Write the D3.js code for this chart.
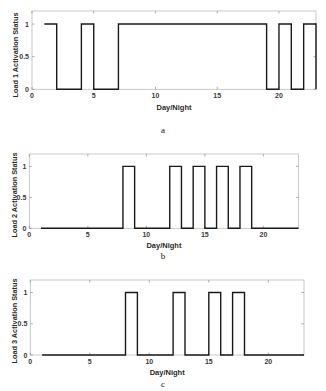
<!DOCTYPE html>
<html>
<head>
<meta charset="utf-8">
<script src="https://cdn.jsdelivr.net/npm/d3@7"></script>
<style>
  html, body { margin: 0; padding: 0; background: #fff; }
  svg { display: block; }
</style>
</head>
<body>
<svg id="chart" width="326" height="391"></svg>
<script>
// Hours of the day/night cycle
const hours = d3.range(1, 24);
// Hourly on/off status of each load
const load1 = [1,0,0,1,0,0,1,1,1,1,1,1,1,1,1,1,1,1,0,1,0,1,0];
const load2 = [0,0,0,0,0,0,0,1,0,0,0,1,0,1,0,1,0,1,0,0,0,0,0];
const load3 = [0,0,0,0,0,0,0,1,0,0,0,1,0,0,1,0,1,0,0,0,0,0,0];
const xTicks = [0, 5, 10, 15, 20];
const yTicks = [0, 0.5, 1];
const yTickLabels = ["0", "0.5", "1"];
const xTitle = "Day/Night";
const yTitles = ["Load 1 Activation Status", "Load 2 Activation Status", "Load 3 Activation Status"];
const captions = ["a", "b", "c"];

const svg = d3.select("#chart");

const panels = [
  { data: load1, left: 32, right: 316, top: 11, bottom: 89.3, labelX: 15, titleMid: 55, xTitleY: 110, capY: 133 },
  { data: load2, left: 29.3, right: 298.5, top: 154, bottom: 228.3, labelX: 14, titleMid: 195, xTitleY: 248, capY: 259 },
  { data: load3, left: 30.3, right: 304, top: 280, bottom: 355, labelX: 14, titleMid: 321, xTitleY: 375, capY: 387 }
];

panels.forEach((p, i) => {
  const x = d3.scaleLinear().domain([0, 23]).range([p.left, p.right]);
  const y = d3.scaleLinear().domain([0, 1.2]).range([p.bottom, p.top]);
  const g = svg.append("g");

  // frame
  g.append("rect")
    .attr("x", p.left).attr("y", p.top)
    .attr("width", p.right - p.left).attr("height", p.bottom - p.top)
    .attr("fill", "none").attr("stroke", "#bdbdbd").attr("stroke-width", 0.8);

  const tickStyle = sel => sel.attr("stroke", "#9a9a9a").attr("stroke-width", 0.8);

  // inward ticks on all four sides
  xTicks.forEach(t => {
    g.append("line").attr("x1", x(t)).attr("x2", x(t)).attr("y1", p.bottom).attr("y2", p.bottom - 2.5).call(tickStyle);
    g.append("line").attr("x1", x(t)).attr("x2", x(t)).attr("y1", p.top).attr("y2", p.top + 2.5).call(tickStyle);
  });
  yTicks.forEach(t => {
    g.append("line").attr("x1", p.left).attr("x2", p.left + 2.5).attr("y1", y(t)).attr("y2", y(t)).call(tickStyle);
    g.append("line").attr("x1", p.right).attr("x2", p.right - 2.5).attr("y1", y(t)).attr("y2", y(t)).call(tickStyle);
  });

  const font = "Liberation Sans, Arial, sans-serif";

  g.selectAll(".xt").data(xTicks).enter().append("text")
    .attr("x", d => x(d)).attr("y", p.bottom + 9)
    .attr("text-anchor", "middle")
    .attr("font-family", font).attr("font-size", 7).attr("font-weight", "bold")
    .attr("fill", "#3a3a3a")
    .text(d => d);

  g.selectAll(".yt").data(yTicks).enter().append("text")
    .attr("x", p.left - 3).attr("y", d => y(d) + 2.5)
    .attr("text-anchor", "end")
    .attr("font-family", font).attr("font-size", 7).attr("font-weight", "bold")
    .attr("fill", "#3a3a3a")
    .text((d, j) => yTickLabels[j]);

  g.append("text")
    .attr("x", (p.left + p.right) / 2).attr("y", p.xTitleY)
    .attr("text-anchor", "middle")
    .attr("font-family", font).attr("font-size", 7.5).attr("font-weight", "bold")
    .attr("fill", "#2a2a2a")
    .text(xTitle);

  g.append("text")
    .attr("transform", `translate(${p.labelX + 2.5},${p.titleMid}) rotate(-90)`)
    .attr("text-anchor", "middle")
    .attr("font-family", font).attr("font-size", 7.3).attr("font-weight", "bold")
    .attr("fill", "#2a2a2a")
    .text(yTitles[i]);

  // step trace of the on/off status
  const pts = hours.map((h, k) => [h, p.data[k]]);
  const line = d3.line().x(d => x(d[0])).y(d => y(d[1])).curve(d3.curveStepAfter);
  g.append("path")
    .attr("d", line(pts))
    .attr("fill", "none").attr("stroke", "#1a1a1a").attr("stroke-width", 1.4);

  svg.append("text")
    .attr("x", 163).attr("y", p.capY)
    .attr("text-anchor", "middle")
    .attr("font-family", "Liberation Serif, Times New Roman, serif").attr("font-size", 9)
    .attr("fill", "#111")
    .text(captions[i]);
});
</script>
</body>
</html>
